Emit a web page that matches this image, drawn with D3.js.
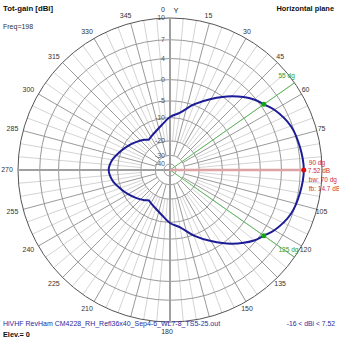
<!DOCTYPE html>
<html><head><meta charset="utf-8">
<script src="https://cdn.jsdelivr.net/npm/d3@7"></script>
<style>body{margin:0;background:#fff}svg{display:block;font-family:"Liberation Sans",Arial,sans-serif}</style>
</head><body>
<script>
// ---- data ----
const angles = [0,10,20,30,40,50,55,60,70,80,90,100,110,120,125,130,140,150,160,170,180,190,200,210,215,220,230,240,250,260,270,280,290,300,310,320,325,330,340,350];
const gains  = [-9.8,-8.1,-4.8,-1.8,1.2,3.7,4.52,5.5,6.75,7.25,7.52,7.25,6.75,5.5,4.52,3.7,1.2,-1.8,-4.8,-8.1,-9.8,-12.3,-14.2,-15.5,-16.0,-15.0,-13.2,-11.4,-9.7,-8.0,-7.18,-8.0,-9.7,-11.4,-13.2,-15.0,-16.0,-15.5,-14.2,-12.3];
const ringValues = [10,7,4,0,-5,-10,-20,-30,-40];
const ringLabels = ["10","7","4","0","-5","-10","-20","-30","-40"];
const degTicks = [0,15,30,45,60,75,105,120,135,150,180,210,225,240,255,270,285,300,315,330,345];
const maxAngle = 90, maxGain = 7.52;
const bwAngles = [55,125], bwGain = 4.52;
const infoLines = ["90 dg","7.52 dB","bw: 70 dg","fb: 14.7 dB"];
const bwLabels = ["55 dg","125 dg"];
const title = "Tot-gain [dBi]", freqText = "Freq=198", planeText = "Horizontal plane";
const fileText = "HiVHF RevHam CM4228_RH_Refl36x40_Sep4-6_WL7-8_TS5-25.out";
const elevText = "Elev.= 0", rangeText = "-16 < dBi < 7.52";

// ---- layout ----
const W = 339, H = 339, cx = 170, cy = 170, R = 152, off = 8, k = 0.0487;
const logS = d3.scaleLog().domain([(R + off) * Math.exp(-50 * k), R + off]).range([-40, 10]);
const r = d => logS.invert(d) - off;
const ang = d3.scaleLinear().domain([0, 360]).range([0, 2 * Math.PI]);
const px = (a, rr) => cx + rr * Math.sin(ang(a));
const py = (a, rr) => cy - rr * Math.cos(ang(a));

const svg = d3.select("body").append("svg").attr("width", W).attr("height", H);
const g = svg.append("g");

// minor radials
const minors = d3.range(0, 360, 5).filter(a => a % 15 !== 0);
g.selectAll(".minor").data(minors).join("line")
  .attr("x1", a => px(a, r(-20))).attr("y1", a => py(a, r(-20)))
  .attr("x2", a => px(a, R)).attr("y2", a => py(a, R))
  .attr("stroke", "#d4d4d4").attr("stroke-width", 1);
// major radials
const majors = d3.range(0, 360, 15).filter(a => a % 90 !== 0);
g.selectAll(".major").data(majors).join("line")
  .attr("x1", a => px(a, r(-30))).attr("y1", a => py(a, r(-30)))
  .attr("x2", a => px(a, R)).attr("y2", a => py(a, R))
  .attr("stroke", "#9a9a9a").attr("stroke-width", 1);
// rings
g.selectAll(".ring").data(ringValues).join("circle")
  .attr("cx", cx).attr("cy", cy).attr("r", d => r(d))
  .attr("fill", "none").attr("stroke", (d, i) => i === 0 ? "#555" : "#999").attr("stroke-width", 1);
// axes
g.append("line").attr("x1", cx).attr("y1", cy - R).attr("x2", cx).attr("y2", cy + R)
  .attr("stroke", "#a0a0a0").attr("stroke-width", 2);
g.append("line").attr("x1", cx - R).attr("y1", cy).attr("x2", cx).attr("y2", cy)
  .attr("stroke", "#a0a0a0").attr("stroke-width", 2);
// beamwidth lines
g.selectAll(".bw").data(bwAngles).join("line")
  .attr("x1", cx).attr("y1", cy).attr("x2", a => px(a, R)).attr("y2", a => py(a, R))
  .attr("stroke", "#5cb85c").attr("stroke-width", 1);
// max line
g.append("line").attr("x1", cx).attr("y1", cy)
  .attr("x2", px(maxAngle, r(maxGain))).attr("y2", py(maxAngle, r(maxGain)))
  .attr("stroke", "#dba3a3").attr("stroke-width", 2.5);

// ring labels
g.selectAll(".rl").data(ringValues).join("text")
  .attr("x", cx - 5).attr("y", d => cy - r(d)).attr("dy", "0.35em")
  .attr("text-anchor", "end").attr("font-size", 7).attr("fill", "#555")
  .text((d, i) => ringLabels[i]);
// degree labels
g.selectAll(".dl").data(degTicks).join("text")
  .attr("x", a => px(a, 160) + (a === 0 ? -7 : -3)).attr("y", a => py(a, a === 180 ? 162 : 160)).attr("dy", "0.35em")
  .attr("text-anchor", "middle").attr("font-size", 7).attr("fill", "#333")
  .text(a => String(a));
g.append("text").attr("x", cx + 6).attr("y", 10).attr("dy", "0.35em").attr("text-anchor", "middle")
  .attr("font-size", 7.5).attr("fill", "#222").text("Y");

// pattern
const pts = angles.map((a, i) => [ang(a), r(gains[i])]);
g.append("path").datum(pts)
  .attr("transform", `translate(${cx},${cy})`)
  .attr("d", d3.lineRadial().angle(d => d[0]).radius(d => d[1]).curve(d3.curveCatmullRomClosed))
  .attr("fill", "none").attr("stroke", "#1c1c96").attr("stroke-width", 2);

// markers
g.selectAll(".bwd").data(bwAngles).join("circle")
  .attr("cx", a => px(a, r(bwGain))).attr("cy", a => py(a, r(bwGain))).attr("r", 2.5)
  .attr("fill", "#13a313");
g.append("circle").attr("cx", px(maxAngle, r(maxGain))).attr("cy", py(maxAngle, r(maxGain))).attr("r", 2.5)
  .attr("fill", "#e01010");
g.selectAll(".bwl").data(bwAngles).join("text")
  .attr("x", a => px(a, R) - 16).attr("y", a => py(a, R) - 5)
  .attr("font-size", 6.5).attr("fill", "#30a030").text((a, i) => bwLabels[i]);
g.selectAll(".info").data(infoLines).join("text")
  .attr("x", (d, i) => px(maxAngle, r(maxGain)) + (i === 1 ? 4 : 5)).attr("y", (d, i) => [163, 171, 180, 189][i]).attr("dy", "0.35em")
  .attr("font-size", 6.5).attr("fill", "#d03030").text(d => d);

// texts
svg.append("text").attr("x", 3).attr("y", 11).attr("font-size", 7.8).attr("font-weight", "bold").attr("fill", "#111").text(title);
svg.append("text").attr("x", 3).attr("y", 29).attr("font-size", 7).attr("fill", "#333").text(freqText);
svg.append("text").attr("x", 334).attr("y", 11).attr("text-anchor", "end").attr("font-size", 7.4).attr("font-weight", "bold").attr("fill", "#111").text(planeText);
svg.append("text").attr("x", 3).attr("y", 326).attr("font-size", 7).attr("fill", "#2a2aa0").text(fileText);
svg.append("text").attr("x", 3).attr("y", 337).attr("font-size", 7.3).attr("font-weight", "bold").attr("fill", "#111").text(elevText);
svg.append("text").attr("x", 335).attr("y", 326).attr("text-anchor", "end").attr("font-size", 6.8).attr("fill", "#2a2aa0").text(rangeText);
</script>
</body></html>
